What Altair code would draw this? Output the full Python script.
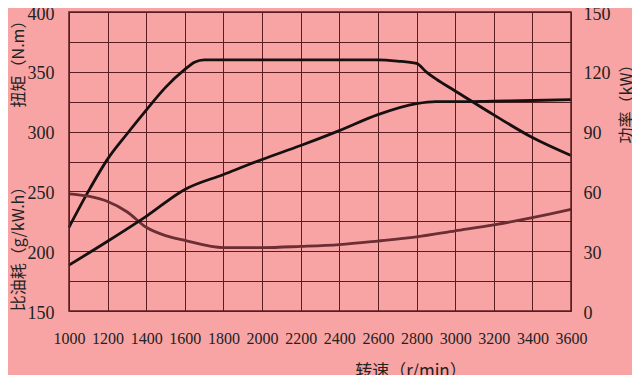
import altair as alt
import pandas as pd

rpm_t = [1000, 1100, 1200, 1300, 1400, 1500, 1600, 1650, 1700, 1800, 2000, 2200, 2400, 2600, 2700, 2800, 2850, 2900, 3000, 3200, 3400, 3600]
torque = [220, 250, 277, 298, 318, 337, 352, 358, 360, 360, 360, 360, 360, 360, 359, 357, 350, 344, 334, 314, 295, 280]

rpm_p = [1000, 1200, 1400, 1600, 1800, 2000, 2200, 2400, 2600, 2800, 2900, 3000, 3200, 3400, 3600]
power = [23, 35, 47.5, 61, 68.5, 76, 83, 90.5, 98.5, 104, 105, 105, 105.3, 105.6, 106]

rpm_f = [1000, 1100, 1200, 1300, 1400, 1500, 1600, 1800, 2000, 2200, 2400, 2600, 2800, 3000, 3200, 3400, 3600]
bsfc = [248, 246, 241.5, 233, 220, 213, 209, 203, 203, 204, 205.5, 208.5, 212, 217, 222, 228, 235]

x_ticks = list(range(1000, 3601, 200))
left_grid = list(range(150, 401, 25))
right_ticks = [0, 30, 60, 90, 120, 150]

BG = "#F9A4A4"
GRID = "#5a1e22"
NUM_FONT = "'Liberation Serif', 'Times New Roman', serif"
CJK_FONT = "Noto Sans CJK SC"

df_t = pd.DataFrame({"rpm": rpm_t, "v": torque})
df_p = pd.DataFrame({"rpm": rpm_p, "v": power})
df_f = pd.DataFrame({"rpm": rpm_f, "v": bsfc})

xscale = alt.Scale(domain=[1000, 3600], nice=False)
xaxis = alt.Axis(values=x_ticks, grid=True, gridColor=GRID, gridOpacity=1, gridWidth=1,
                 ticks=False, domain=False, labelFont=NUM_FONT, labelFontSize=16,
                 labelColor="#222", labelPadding=19, title=None, format="d",
                 labelOverlap=False, labelFlush=False)
lscale = alt.Scale(domain=[150, 400], nice=False, zero=False)
laxis = alt.Axis(values=left_grid, grid=True, gridColor=GRID, gridOpacity=1, gridWidth=1,
                 ticks=False, domain=False, labelFont=NUM_FONT, labelFontSize=18,
                 labelColor="#222", labelPadding=15, title=None, labelOverlap=False,
                 labelFlush=False, labelOffset=2,
                 labelExpr="datum.value % 50 == 0 ? datum.label : ''")
rscale = alt.Scale(domain=[0, 150], nice=False, zero=False)
raxis = alt.Axis(values=right_ticks, grid=False, orient="right",
                 ticks=False, domain=False, labelFont=NUM_FONT, labelFontSize=18,
                 labelColor="#222", labelPadding=12, title=None, labelOverlap=False,
                 labelFlush=False, labelOffset=2)

torque_line = alt.Chart(df_t).mark_line(color="#161010", strokeWidth=2.8, interpolate="monotone").encode(
    x=alt.X("rpm:Q", scale=xscale, axis=xaxis),
    y=alt.Y("v:Q", scale=lscale, axis=laxis),
)
fuel_line = alt.Chart(df_f).mark_line(color="#6b2e33", strokeWidth=2.8, interpolate="monotone").encode(
    x=alt.X("rpm:Q", scale=xscale, axis=xaxis),
    y=alt.Y("v:Q", scale=lscale, axis=laxis),
)
left = alt.layer(torque_line, fuel_line)

power_line = alt.Chart(df_p).mark_line(color="#161010", strokeWidth=2.8, interpolate="monotone").encode(
    x=alt.X("rpm:Q", scale=xscale, axis=xaxis),
    y=alt.Y("v:Q", scale=rscale, axis=raxis),
)

tdf = pd.DataFrame({"a": [0]})
def label(text, x, y, angle=0, size=16):
    return alt.Chart(tdf).mark_text(text=text, font=CJK_FONT, fontSize=size, color="#222",
                                    angle=angle, align="center", baseline="middle").encode(
        x=alt.value(x), y=alt.value(y))

titles = alt.layer(
    label("扭矩（N.m）", -50, 48, 270),
    label("比油耗（g/kW.h）", -50, 233, 270),
    label("功率（kW）", 558, 88, 270),
    label("转速（r/min）", 342, 360, 0, 17),
)

frame = alt.Chart(tdf).mark_rect(fill=None, stroke=GRID, strokeWidth=1.5).encode(
    x=alt.value(0), x2=alt.value(502), y=alt.value(0), y2=alt.value(299))

chart = alt.layer(left, power_line, frame, titles).resolve_scale(y="independent").properties(
    width=502, height=299, background=BG,
    autosize=alt.AutoSizeParams(type="none"),
    padding={"left": 61, "top": 4, "right": 61, "bottom": 64},
).configure_view(stroke=None, fill=BG)

chart.save("out.html", embed_options={"renderer": "svg", "actions": False})
